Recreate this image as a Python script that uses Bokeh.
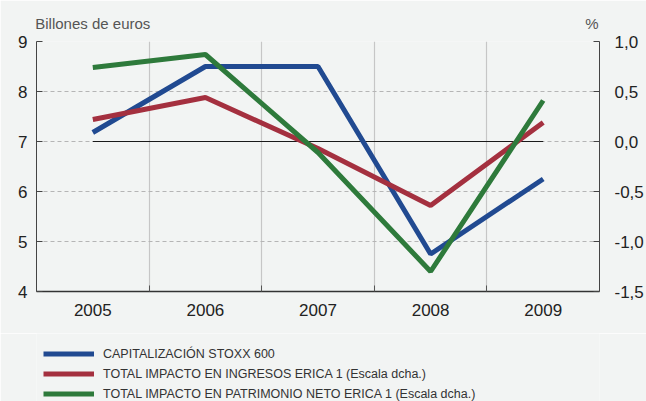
from bokeh.plotting import figure
from bokeh.layouts import column
from bokeh.models import (Range1d, LinearAxis, FixedTicker, CustomJSTickFormatter,
                          Legend, LegendItem)
from bokeh.embed import file_html
from bokeh.resources import INLINE

years = [2005, 2006, 2007, 2008, 2009]
stoxx = [7.18, 8.5, 8.5, 4.75, 6.25]          # left scale, billones de euros
ingresos = [0.22, 0.44, -0.07, -0.64, 0.19]    # right scale, %
patrimonio = [0.74, 0.87, -0.11, -1.30, 0.41]  # right scale, %
left_ticks = [4, 5, 6, 7, 8, 9]
right_ticks = [-1.5, -1.0, -0.5, 0.0, 0.5, 1.0]
series_labels = ["CAPITALIZACIÓN STOXX 600",
                 "TOTAL IMPACTO EN INGRESOS ERICA 1 (Escala dcha.)",
                 "TOTAL IMPACTO EN PATRIMONIO NETO ERICA 1 (Escala dcha.)"]
left_title = "Billones de euros"
right_title = "%"

BG = "#f2f4f3"
BLUE = "#214a91"
RED = "#a4303f"
GREEN = "#2e7a3b"
COLORS = [BLUE, RED, GREEN]
FONT = "Liberation Sans"

boundaries = [y + 0.5 for y in years[:-1]]

p = figure(width=646, height=333, output_backend="svg", toolbar_location=None,
           x_range=Range1d(years[0] - 0.5, years[-1] + 0.5),
           y_range=Range1d(left_ticks[0], left_ticks[-1]),
           min_border_left=36, min_border_right=47, min_border_top=41, min_border_bottom=42,
           background_fill_color=BG, border_fill_color=BG, outline_line_color=None)
p.extra_y_ranges = {"pct": Range1d(right_ticks[0], right_ticks[-1])}

# bottom axis
xa = p.xaxis[0]
xa.ticker = FixedTicker(ticks=years, minor_ticks=boundaries)
xa.major_tick_in = 0
xa.major_tick_out = 0
xa.minor_tick_in = 6
xa.minor_tick_out = 0
xa.minor_tick_line_color = "#555555"
xa.axis_line_color = "#333333"
xa.axis_line_width = 1.3
xa.major_label_text_font = FONT
xa.major_label_text_font_size = "17px"
xa.major_label_text_color = "#222222"
xa.major_label_standoff = 12

# left axis
ya = p.yaxis[0]
ya.ticker = FixedTicker(ticks=left_ticks)
ya.major_tick_in = 6
ya.major_tick_out = 0
ya.major_tick_line_color = "#444444"
ya.axis_line_color = "#444444"
ya.major_label_text_font = FONT
ya.major_label_text_font_size = "17px"
ya.major_label_text_color = "#222222"
ya.major_label_standoff = 9

# right axis
ra = LinearAxis(y_range_name="pct", ticker=FixedTicker(ticks=right_ticks),
                formatter=CustomJSTickFormatter(code="return tick.toFixed(1).replace('.', ',');"))
ra.major_tick_in = 6
ra.major_tick_out = 0
ra.minor_tick_in = 0
ra.minor_tick_out = 0
ra.major_tick_line_color = "#444444"
ra.axis_line_color = "#444444"
ra.major_label_text_font = FONT
ra.major_label_text_font_size = "17px"
ra.major_label_text_color = "#222222"
ra.major_label_standoff = 15
p.add_layout(ra, "right")

# unit titles above the frame (left: billones de euros, right: %)
ta = LinearAxis(ticker=FixedTicker(ticks=[years[0], 2009.433]),
                formatter=CustomJSTickFormatter(args=dict(a=left_title, b=right_title, mid=years[2]),
                                                code="return tick < mid ? a : b;"))
ta.axis_line_color = None
ta.major_tick_line_color = None
ta.minor_tick_line_color = None
ta.major_tick_in = 0
ta.major_tick_out = 0
ta.major_label_text_font = FONT
ta.major_label_text_font_size = "15px"
ta.major_label_text_color = "#555555"
ta.major_label_standoff = 10
p.add_layout(ta, "above")

# grids
p.xgrid.ticker = FixedTicker(ticks=boundaries)
p.xgrid.grid_line_color = "#c6c6c6"
p.xgrid.grid_line_width = 1.2
p.ygrid.ticker = FixedTicker(ticks=left_ticks)
p.ygrid.grid_line_color = "#b5b5b5"
p.ygrid.grid_line_dash = "4 3"

# zero line of right scale
p.line(x=[years[0], years[-1]], y=[0, 0], y_range_name="pct", line_color="#1a1a1a", line_width=1.2)

p.line(x=years, y=stoxx, line_color=BLUE, line_width=5)
p.line(x=years, y=ingresos, y_range_name="pct", line_color=RED, line_width=5)
p.line(x=years, y=patrimonio, y_range_name="pct", line_color=GREEN, line_width=5)

# legend strip below the chart (its line renderers hold the series but lie outside its view)
lg = figure(width=646, height=68, output_backend="svg", toolbar_location=None,
            x_axis_location=None, y_axis_location=None,
            x_range=Range1d(0, 1), y_range=Range1d(0, 1),
            min_border_left=0, min_border_right=0, min_border_top=0, min_border_bottom=0,
            background_fill_color=BG, border_fill_color=BG, outline_line_color=None)
lg.grid.visible = False
items = []
for lab, col, vals in zip(series_labels, COLORS, [stoxx, ingresos, patrimonio]):
    r = lg.line(x=years, y=vals, line_color=col, line_width=5)
    items.append(LegendItem(label=lab, renderers=[r]))
legend = Legend(items=items, location=(7, -2), orientation="vertical",
                background_fill_alpha=0, border_line_color=None,
                glyph_width=51, glyph_height=19, label_height=19, label_standoff=9,
                spacing=1, padding=0, margin=0,
                label_text_font=FONT, label_text_font_size="12.5px",
                label_text_color="#333333")
lg.add_layout(legend, "center")

layout = column(p, lg, spacing=0)
open("out.html", "w").write(file_html(layout, INLINE))
